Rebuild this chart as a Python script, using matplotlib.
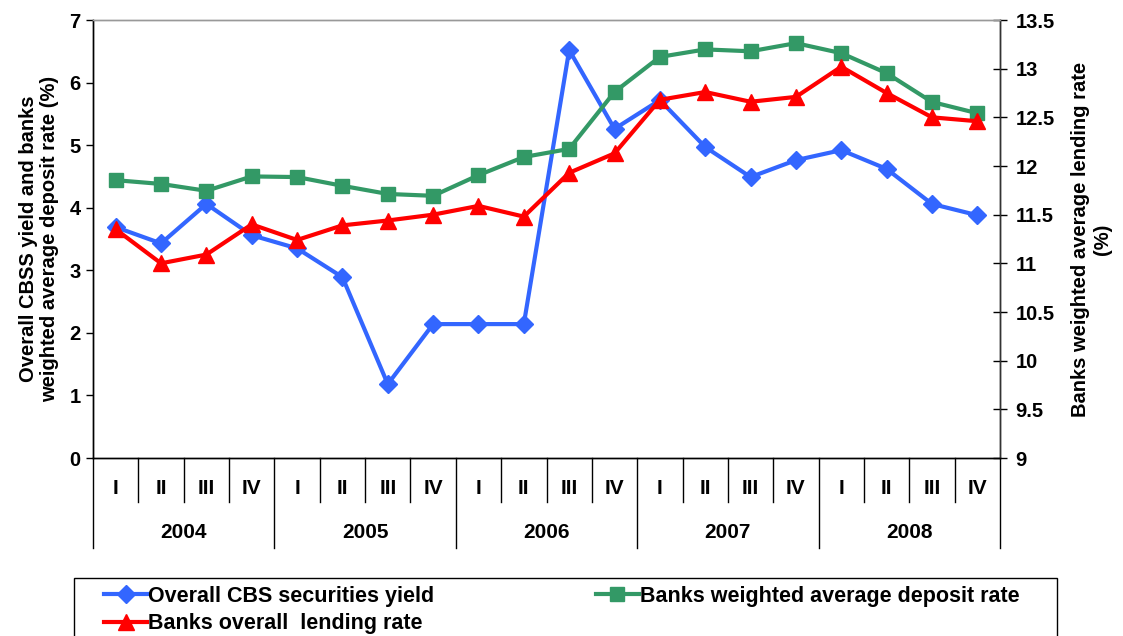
import matplotlib
matplotlib.use("Agg")
import matplotlib.pyplot as plt
import matplotlib.transforms as mtransforms
from matplotlib.patches import Rectangle

plt.rcParams["font.family"] = ["Liberation Sans", "DejaVu Sans"]
plt.rcParams["font.weight"] = "bold"

years = ["2004", "2005", "2006", "2007", "2008"]
quarters = ["I", "II", "III", "IV"]

# left axis (%)
cbs_yield = [3.69, 3.43, 4.06, 3.56, 3.35, 2.89, 1.18, 2.14, 2.14, 2.14,
             6.52, 5.26, 5.72, 4.97, 4.49, 4.76, 4.92, 4.62, 4.06, 3.88]
deposit_rate = [4.44, 4.38, 4.27, 4.50, 4.49, 4.35, 4.22, 4.19, 4.52, 4.81,
                4.94, 5.85, 6.41, 6.53, 6.50, 6.63, 6.47, 6.15, 5.69, 5.51]
# right axis (%)
lending_rate = [11.35, 11.00, 11.09, 11.40, 11.24, 11.39, 11.44, 11.50, 11.59, 11.48,
                11.93, 12.13, 12.68, 12.76, 12.66, 12.71, 13.02, 12.75, 12.50, 12.46]

BLUE, GREEN, RED = "#3366FF", "#339966", "#FF0000"

W, H = 1123, 636
fig = plt.figure(figsize=(W / 100, H / 100), dpi=100)
ax = fig.add_axes([93 / W, 1 - 458 / H, 907 / W, 438 / H])
ax2 = ax.twinx()

n = len(cbs_yield)
x = [i + 0.5 for i in range(n)]

l1, = ax.plot(x, cbs_yield, color=BLUE, lw=3, marker="D", ms=9,
              label="Overall CBS securities yield", zorder=3)
l2, = ax.plot(x, deposit_rate, color=GREEN, lw=3, marker="s", ms=10,
              label="Banks weighted average deposit rate", zorder=3)
l3, = ax2.plot(x, lending_rate, color=RED, lw=3, marker="^", ms=11,
               label="Banks overall  lending rate", zorder=3)

ax.set_xlim(0, n)
ax.set_ylim(0, 7)
ax2.set_ylim(9, 13.5)
ax.set_yticks(range(0, 8))
ax2.set_yticks([9 + 0.5 * k for k in range(10)])
ax2.set_yticklabels(["9", "9.5", "10", "10.5", "11", "11.5", "12", "12.5", "13", "13.5"])
ax.set_xticks([])

for a in (ax, ax2):
    a.tick_params(labelsize=14.5, width=1)
    for s in a.spines.values():
        s.set_linewidth(1)
ax.tick_params(axis="y", direction="out", length=5, pad=4)
ax2.tick_params(axis="y", direction="inout", length=10, pad=6)
ax.spines["top"].set_color("#999999")
ax2.spines["top"].set_color("#999999")
ax2.spines["right"].set_color("#333333")

ax.set_ylabel("Overall CBSS yield and banks\nweighted average deposit rate (%)",
              fontsize=14.5, fontweight="bold", labelpad=7)
ax2.set_ylabel("Banks weighted average lending rate\n(%)",
               fontsize=14.5, fontweight="bold", labelpad=12)

# two-level category axis: quarters under years
trans = mtransforms.blended_transform_factory(ax.transData, ax.transAxes)
for b in range(n + 1):
    depth = -0.205 if b % 4 == 0 else -0.100
    ax.plot([b, b], [0, depth], color="black", lw=1, transform=trans, clip_on=False)
for i in range(n):
    ax.text(i + 0.5, -0.070, quarters[i % 4], transform=trans, ha="center",
            va="center", fontsize=15, fontweight="bold")
for k, yr in enumerate(years):
    ax.text(4 * k + 2, -0.169, yr, transform=trans, ha="center", va="center",
            fontsize=15, fontweight="bold")

# legend box runs off the bottom edge
fig.patches.append(Rectangle((74 / W, -0.05), (1057 - 74) / W, 0.05 + 1 - 578 / H,
                             transform=fig.transFigure, facecolor="white",
                             edgecolor="black", lw=1))
leg = fig.legend([l1, l3, l2], [l1.get_label(), l3.get_label(), l2.get_label()],
                 loc="upper left", bbox_to_anchor=(104 / W, 1 - 586 / H),
                 ncol=2, fontsize=15.5, frameon=False, handlelength=2.0,
                 handletextpad=0.05, columnspacing=7.5, borderpad=0,
                 labelspacing=0.3, borderaxespad=0)
for t in leg.get_texts():
    t.set_fontweight("bold")

fig.savefig("out.png", dpi=100)
